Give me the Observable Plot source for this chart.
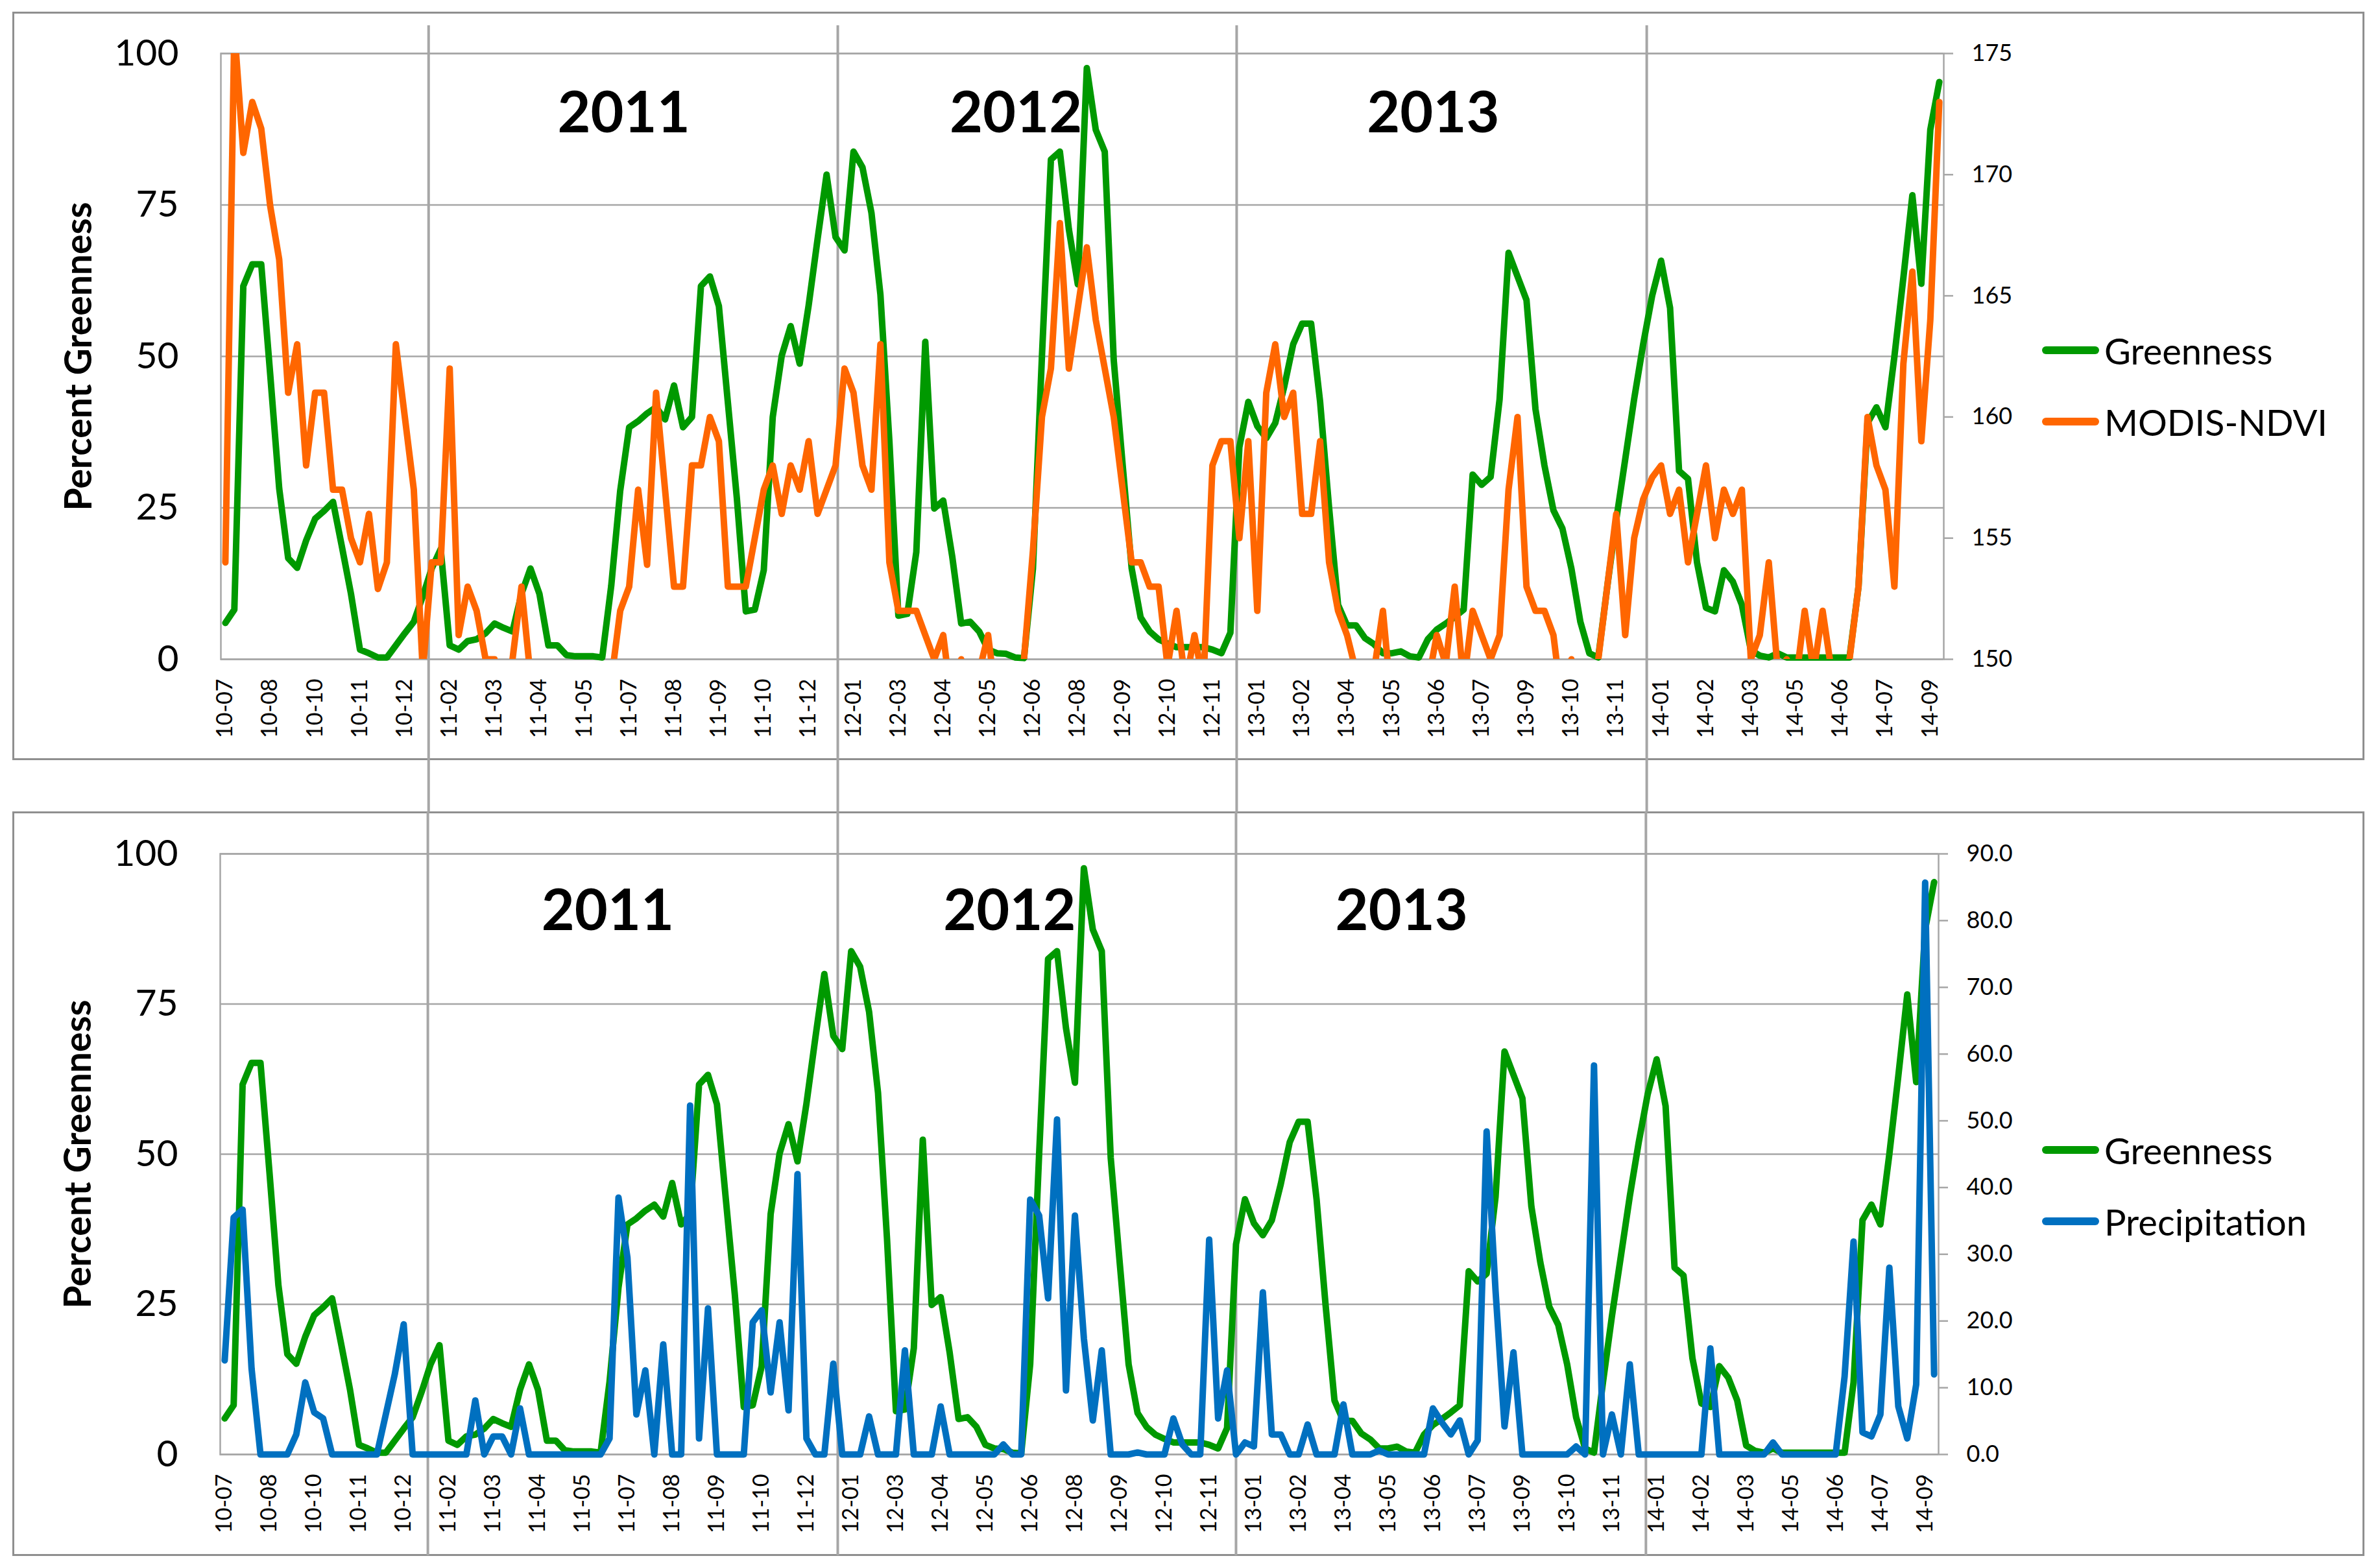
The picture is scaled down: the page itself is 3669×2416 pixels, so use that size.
<!DOCTYPE html>
<html>
<head>
<meta charset="utf-8">
<script src="https://cdn.jsdelivr.net/npm/d3@7"></script>
<script src="https://cdn.jsdelivr.net/npm/@observablehq/plot@0.6"></script>
<style>
  body { margin: 0; background: #fff; }
  #root { position: relative; width: 3669px; height: 2416px; background: #fff; overflow: hidden; font-family: Lato, sans-serif; }
  .panel { position: absolute; border: 3px solid #8f8f8f; box-sizing: border-box; }
  .plotbox { position: absolute; left: 0; }
  .leg { position: absolute; height: 70px; display: flex; align-items: center; font-size: 56px; color: #000; white-space: nowrap; }
  .sw { display: inline-block; width: 88px; height: 12px; border-radius: 6px; margin-right: 8px; }
</style>
</head>
<body>
<div id="root">
  <div class="panel" style="left:19px;top:18px;width:3626px;height:1154px;"></div>
  <div class="panel" style="left:19px;top:1251px;width:3626px;height:1148px;"></div>
  <div id="topPlot" class="plotbox" style="top:0px;"></div>
  <div id="botPlot" class="plotbox" style="top:1252px;"></div>
  <div class="leg" style="left:3148px;top:505px;"><span class="sw" style="background:#009900"></span>Greenness</div>
  <div class="leg" style="left:3148px;top:615px;"><span class="sw" style="background:#ff6600"></span>MODIS-NDVI</div>
  <div class="leg" style="left:3148px;top:1738px;"><span class="sw" style="background:#009900"></span>Greenness</div>
  <div class="leg" style="left:3148px;top:1848px;"><span class="sw" style="background:#0070c0"></span>Precipitation</div>
</div>
<script>
// ---- data ----
const tickLabels = ["10-07","10-08","10-10","10-11","10-12","11-02","11-03","11-04","11-05","11-07","11-08","11-09","11-10","11-12","12-01","12-03","12-04","12-05","12-06","12-08","12-09","12-10","12-11","13-01","13-02","13-04","13-05","13-06","13-07","13-09","13-10","13-11","14-01","14-02","14-03","14-05","14-06","14-07","14-09"];

const greenness = [
  6, 8.2, 61.6, 65.2, 65.2, 47, 28.2, 16.7, 15.1, 19.6,
  23.2, 24.5, 26, 18.5, 10.8, 1.6, 1, 0.3, 0.3, 2.3,
  4.3, 6.2, 10.4, 15, 18.2, 2.3, 1.6, 3, 3.3, 4.3,
  5.9, 5.2, 4.6, 10.8, 15, 10.8, 2.3, 2.3, 0.7, 0.5,
  0.5, 0.5, 0.3, 12.1, 27.8, 38.3, 39.3, 40.6, 41.6, 39.6,
  45.2, 38.3, 40, 61.6, 63.2, 58.3, 42.4, 26.6, 7.9, 8.2,
  14.7, 40, 50.1, 55, 48.8, 58.4, 69.4, 80, 69.7, 67.5,
  83.8, 81.2, 73.7, 60.2, 36, 7.2, 7.5, 17.7, 52.4, 24.9,
  26.2, 17, 5.9, 6.2, 4.6, 1.6, 1, 0.9, 0.3, 0.2,
  15, 50, 82.5, 83.8, 71, 61.9, 97.6, 87.4, 83.8, 49.4,
  32, 15, 6.9, 4.6, 3.3, 2.6, 2, 2, 2, 2,
  1.6, 1, 4.4, 35, 42.5, 38.5, 36.5, 39, 45, 52,
  55.4, 55.4, 42.5, 25, 9, 5.6, 5.6, 3.5, 2.5, 1,
  1, 1.3, 0.5, 0.3, 3.3, 4.9, 5.9, 7, 8.2, 30.5,
  28.8, 30.1, 42.9, 67.1, 63.2, 59.3, 41.3, 32, 24.6, 21.6,
  15, 6.2, 1, 0.3, 12, 23, 33, 43, 52, 60,
  65.8, 58, 31.1, 29.8, 16, 8.5, 7.9, 14.7, 12.8, 9,
  1.5, 0.6, 0.3, 1, 0.3, 0.3, 0.3, 0.3, 0.3, 0.3,
  0.3, 0.3, 12, 39, 41.6, 38.3, 50, 63, 76.6, 62,
  87.4, 95.3
];

const ndvi = [
  154, 176, 170.9, 173, 171.9, 168.7, 166.5, 161, 163, 158,
  161, 161, 157, 157, 155, 154, 156, 152.9, 154, 163,
  160, 157, 149.5, 154, 154, 162, 151, 153, 152, 150,
  150, 147, 150, 153, 149.3, 147, 147, 147, 147, 147,
  147, 147, 147, 149.1, 152, 153, 157, 153.9, 161, 157,
  153, 153, 158, 158, 160, 159, 153, 153, 153, 155,
  157, 158, 156, 158, 157, 159, 156, 157, 158, 162,
  161, 158, 157, 163, 154, 152, 152, 152, 151, 150,
  151, 148, 150, 148, 149.5, 151, 148, 148, 148, 150,
  154.5, 160, 162, 168, 162, 164.5, 167, 164, 162, 160,
  157, 154, 154, 153, 153, 149.7, 152, 149, 151, 149,
  158, 159, 159, 155, 159, 152, 161, 163, 160, 161,
  156, 156, 159, 154, 152, 151, 149.5, 148, 149.5, 152,
  148, 148, 148, 148, 149, 151, 149.8, 153, 149, 152,
  151, 150, 151, 157, 160, 153, 152, 152, 151, 148,
  150, 148, 148, 150, 153, 156, 151, 155, 156.6, 157.5,
  158, 156, 157, 154, 156, 158, 155, 157, 156, 157,
  150, 151, 154, 149.5, 150, 149, 152, 149.5, 152, 149.5,
  148, 150, 153, 160, 158, 157, 153, 162.2, 166, 159,
  164, 173
];

const precipitation = [
  14.1, 35.5, 36.7, 12.9, 0, 0, 0, 0, 3, 10.8,
  6.3, 5.4, 0, 0, 0, 0, 0, 0, 6, 12,
  19.5, 0, 0, 0, 0, 0, 0, 0, 8.1, 0,
  2.7, 2.7, 0, 6.9, 0, 0, 0, 0, 0, 0,
  0, 0, 0, 2.4, 38.5, 29.5, 6, 12.6, 0, 16.5,
  0, 0, 52.3, 2.4, 21.9, 0, 0, 0, 0, 19.8,
  21.6, 9.3, 19.8, 6.6, 42, 2.4, 0, 0, 13.6, 0,
  0, 0, 5.7, 0, 0, 0, 15.6, 0, 0, 0,
  7.2, 0, 0, 0, 0, 0, 0, 1.5, 0, 0,
  38.2, 35.8, 23.4, 50.2, 9.6, 35.8, 17.4, 5.1, 15.6, 0,
  0, 0, 0.3, 0, 0, 0, 5.4, 1.5, 0, 0,
  32.2, 5.4, 12.6, 0, 1.8, 1.2, 24.3, 3, 3, 0,
  0, 4.5, 0, 0, 0, 7.5, 0, 0, 0, 0.6,
  0, 0, 0, 0, 0, 6.9, 4.8, 3, 5.1, 0,
  2.1, 48.4, 24.5, 4.2, 15.3, 0, 0, 0, 0, 0,
  0, 1.2, 0, 58.3, 0, 6, 0, 13.5, 0, 0,
  0, 0, 0, 0, 0, 0, 15.9, 0, 0, 0,
  0, 0, 0, 1.8, 0, 0, 0, 0, 0, 0,
  0, 11.7, 31.9, 3.3, 2.7, 6, 28, 7.2, 2.4, 10.5,
  85.7, 12
];

const leftTicks = [0, 25, 50, 75, 100];
const ndviTicks = [150, 155, 160, 165, 170, 175];
const precipTicks = [0, 10, 20, 30, 40, 50, 60, 70, 80, 90];
const yearNames = ["2011", "2012", "2013"];

// annotation placement (category index units)
const yearBoundsTop = [22.65, 68.25, 112.7, 158.4];
const yearBoundsBot = [22.7, 68.5, 113, 158.8];
const yearLabelXTop = [44.4, 88.1, 134.6];
const yearLabelXBot = [42.8, 87.7, 131.5];

const GREEN = "#009900", ORANGE = "#ff6600", BLUE = "#0070c0", GRID = "#a6a6a6";
const LINE_W = 10;

const NDVI_MIN = 150, NDVI_SPAN = 25, PRECIP_MAX = 90;
const table = greenness.map((g, i) => ({
  i,
  g,
  ndviPct: (ndvi[i] - NDVI_MIN) / NDVI_SPAN * 100,
  precipPct: precipitation[i] / PRECIP_MAX * 100
}));

const xTicks = tickLabels.map((_, k) => k * 5);

function basePanel({height, marginLeft, marginRight, marginTop, marginBottom, yTop, yBottom, bounds, yearX, yearY, rightTicks, rightFmt, series}) {
  return Plot.plot({
    width: 3669,
    height,
    marginLeft, marginRight, marginTop, marginBottom,
    x: {domain: [-0.5, 191.5]},
    y: {domain: [0, 100]},
    style: {fontFamily: "Lato, sans-serif", background: "transparent", color: "#000", overflow: "visible"},
    marks: [
      Plot.gridY(leftTicks, {stroke: GRID, strokeOpacity: 1, strokeWidth: 2.5}),
      Plot.frame({stroke: GRID, strokeWidth: 2.5}),
      Plot.ruleX(bounds, {y1: yTop, y2: yBottom, stroke: GRID, strokeWidth: 4}),
      Plot.axisY(leftTicks, {anchor: "left", tickSize: 0, tickPadding: 65, fontSize: 57, label: null}),
      Plot.axisY(rightTicks, {anchor: "right", tickSize: 14, tickPadding: 29, fontSize: 36, stroke: GRID, strokeWidth: 2.5, tickFormat: rightFmt, label: null}),
      Plot.axisX(xTicks, {anchor: "bottom", tickFormat: d => tickLabels[Math.round(d / 5)], tickRotate: -90, tickSize: 0, tickPadding: 30, fontSize: 34, label: null}),
      Plot.text(["Percent Greenness"], {text: d => d, frameAnchor: "left", textAnchor: "middle", dx: -218, rotate: -90, fontSize: 57, fontWeight: "bold"}),
      Plot.text(yearNames, {x: (d, i) => yearX[i], y: yearY, text: d => d, fontSize: 88, fontWeight: "bold"}),
      ...series
    ]
  });
}

const topChart = basePanel({
  height: 1252, marginLeft: 340, marginRight: 673, marginTop: 82, marginBottom: 236,
  yTop: 104.6, yBottom: -25.3,
  bounds: yearBoundsTop, yearX: yearLabelXTop, yearY: 90,
  rightTicks: ndviTicks.map(v => (v - NDVI_MIN) / NDVI_SPAN * 100),
  rightFmt: d => String(Math.round(NDVI_MIN + d / 100 * NDVI_SPAN)),
  series: [
    Plot.line(table, {x: "i", y: "g", stroke: GREEN, strokeWidth: LINE_W}),
    Plot.line(table, {x: "i", y: "ndviPct", stroke: ORANGE, strokeWidth: LINE_W, clip: true})
  ]
});

const botChart = basePanel({
  height: 1164, marginLeft: 339, marginRight: 681, marginTop: 64, marginBottom: 174,
  yTop: 106.9, yBottom: -16.85,
  bounds: yearBoundsBot, yearX: yearLabelXBot, yearY: 90.4,
  rightTicks: precipTicks.map(v => v / PRECIP_MAX * 100),
  rightFmt: d => (d / 100 * PRECIP_MAX).toFixed(1),
  series: [
    Plot.line(table, {x: "i", y: "g", stroke: GREEN, strokeWidth: LINE_W}),
    Plot.line(table, {x: "i", y: "precipPct", stroke: BLUE, strokeWidth: LINE_W})
  ]
});

document.getElementById("topPlot").appendChild(topChart);
document.getElementById("botPlot").appendChild(botChart);
</script>
</body>
</html>
